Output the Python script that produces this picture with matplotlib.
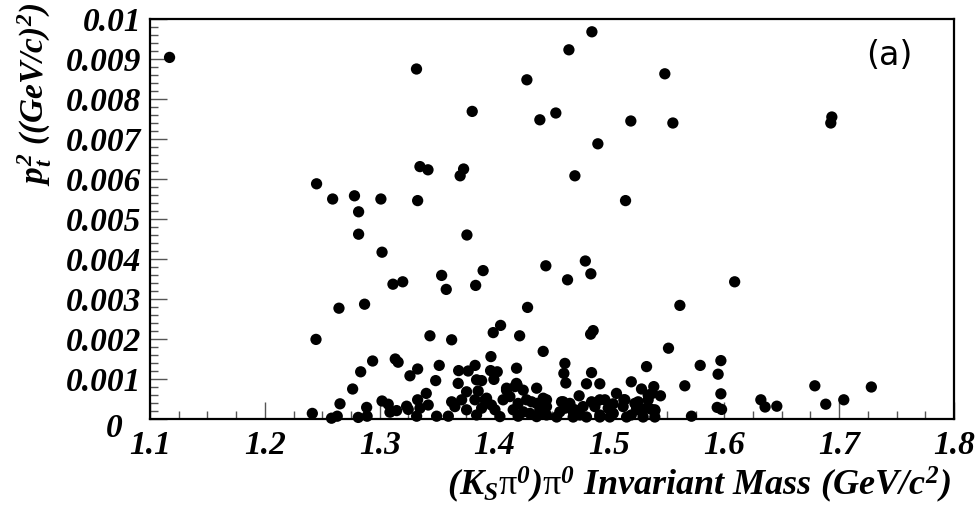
import matplotlib
matplotlib.use("Agg")
import matplotlib.pyplot as plt
import matplotlib.transforms as mtransforms
from matplotlib.ticker import MultipleLocator, FixedLocator

# (K_S pi0) pi0 invariant mass [GeV/c^2] and pt^2 [(GeV/c)^2]
mass_hi = [1.117, 1.332, 1.3805, 1.335, 1.342, 1.370, 1.373, 1.245, 1.259, 1.278,
           1.301, 1.333, 1.2816, 1.2816, 1.3759, 1.302, 1.3115, 1.320, 1.3539, 1.3579,
           1.390, 1.3835, 1.2645, 1.2868, 1.2445, 1.3437, 1.3626, 1.514, 1.4446, 1.479,
           1.4838, 1.4635, 1.5613, 1.4287, 1.4052, 1.3988, 1.4218, 1.4858, 1.4836,
           1.4847, 1.4647, 1.4281, 1.5482, 1.4533, 1.4394, 1.5186, 1.5552, 1.4899,
           1.4699, 1.6936, 1.6927, 1.609]
pt2_hi = [0.00904, 0.00875, 0.00769, 0.00631, 0.00623, 0.00608, 0.00625, 0.00588, 0.00550, 0.00558,
          0.00550, 0.00546, 0.00518, 0.00462, 0.00460, 0.00417, 0.00337, 0.00343, 0.00359, 0.00324,
          0.00371, 0.00334, 0.00277, 0.00287, 0.00199, 0.00208, 0.00198, 0.00546, 0.00383, 0.00395,
          0.00363, 0.00348, 0.00284, 0.00279, 0.00234, 0.00216, 0.00208, 0.00221, 0.00212,
          0.00968, 0.00923, 0.00848, 0.00863, 0.00765, 0.00748, 0.00745, 0.00740, 0.00688,
          0.00608, 0.00755, 0.00740, 0.00343]

mass_lo = [1.579, 1.597, 1.5946, 1.5656, 1.597, 1.5938, 1.5976, 1.5714, 1.6318, 1.6355,
           1.6457, 1.6788, 1.6883, 1.704, 1.728,
           1.2938, 1.2834, 1.2764, 1.3135, 1.316, 1.3263, 1.333, 1.2654, 1.2413, 1.258,
           1.263, 1.2886, 1.289, 1.2813, 1.302, 1.3074, 1.3089, 1.3147, 1.3234, 1.3248,
           1.333, 1.3321,
           1.4423, 1.5514, 1.3518, 1.3487, 1.3687, 1.377, 1.383, 1.3683, 1.3843, 1.3887,
           1.3968, 1.3965, 1.4023, 1.3994, 1.4191, 1.4196, 1.4612, 1.4603, 1.462, 1.4844,
           1.480, 1.4916, 1.5323, 1.519, 1.5279, 1.5386, 1.5444, 1.5061, 1.4736, 1.5125,
           1.4916, 1.5221, 1.5337, 1.5366, 1.5395, 1.525, 1.5003, 1.4873, 1.477, 1.4597,
           1.4655, 1.4568, 1.4684, 1.5033, 1.519, 1.4916, 1.4742,
           1.3422, 1.3405, 1.335, 1.3495, 1.3597, 1.3626, 1.3654, 1.3713, 1.3756, 1.3756,
           1.3857, 1.3829, 1.3916, 1.3887, 1.3972, 1.4003, 1.3843, 1.4074, 1.4104, 1.4046,
           1.4177, 1.4249, 1.4366, 1.4133, 1.4205, 1.4162, 1.4278, 1.4322, 1.4366, 1.4423,
           1.4452, 1.4249, 1.4307, 1.4394, 1.4205, 1.4366, 1.4452,
           1.4104, 1.419, 1.4452, 1.393,
           1.5372, 1.4438, 1.4423, 1.4583, 1.4612, 1.4655, 1.4699, 1.4844, 1.4873, 1.4960,
           1.4989, 1.5032, 1.5134, 1.5119, 1.525, 1.5236, 1.5337, 1.5323, 1.5395, 1.4394,
           1.454, 1.4684, 1.480, 1.4916, 1.5003, 1.5149, 1.5293, 1.5395]
pt2_lo = [0.00134, 0.00146, 0.00112, 0.00083, 0.00063, 0.00029, 0.00024, 0.00007, 0.00048, 0.00030,
          0.00032, 0.00083, 0.00037, 0.00048, 0.00080,
          0.00145, 0.00118, 0.00075, 0.00150, 0.00142, 0.00108, 0.00125, 0.00038, 0.00014, 0.00002,
          0.00007, 0.00029, 0.00007, 0.00004, 0.00045, 0.00037, 0.00017, 0.00021, 0.00032, 0.00024,
          0.00048, 0.00007,
          0.00169, 0.00177, 0.00134, 0.00096, 0.00121, 0.00120, 0.00134, 0.00089, 0.00098, 0.00096,
          0.00156, 0.00121, 0.00118, 0.00099, 0.00127, 0.00085, 0.00139, 0.00114, 0.00090, 0.00116,
          0.00088, 0.00088, 0.00131, 0.00093, 0.00075, 0.00081, 0.00058, 0.00064, 0.00058, 0.00048,
          0.00048, 0.00039, 0.00060, 0.00024, 0.00021, 0.00023, 0.00029, 0.00037, 0.00031, 0.00043,
          0.00039, 0.00018, 0.00018, 0.00014, 0.00010, 0.00010, 0.00010,
          0.00035, 0.00064, 0.00027, 0.00007, 0.00007, 0.00043, 0.00031, 0.00048, 0.00068, 0.00023,
          0.00070, 0.00048, 0.00048, 0.00027, 0.00035, 0.00023, 0.00010, 0.00048, 0.00072, 0.00006,
          0.00081, 0.00072, 0.00077, 0.00056, 0.00039, 0.00023, 0.00048, 0.00043, 0.00039, 0.00052,
          0.00031, 0.00018, 0.00014, 0.00018, 0.00007, 0.00006, 0.00010,
          0.00077, 0.00089, 0.00048, 0.00052,
          0.00064, 0.00048, 0.00035, 0.00043, 0.00027, 0.00035, 0.00023, 0.00043, 0.00031, 0.00048,
          0.00027, 0.00038, 0.00048, 0.00031, 0.00043, 0.00027, 0.00048, 0.00027, 0.00023, 0.00023,
          0.00005, 0.00005, 0.00005, 0.00005, 0.00005, 0.00005, 0.00005, 0.00005]

xticks = [1.1, 1.2, 1.3, 1.4, 1.5, 1.6, 1.7, 1.8]
yticks = [0, 0.001, 0.002, 0.003, 0.004, 0.005, 0.006, 0.007, 0.008, 0.009, 0.01]
ylabels = ['0', '0.001', '0.002', '0.003', '0.004', '0.005', '0.006', '0.007', '0.008', '0.009', '0.01']

plt.rcParams['mathtext.fontset'] = 'custom'
plt.rcParams['mathtext.rm'] = 'Liberation Serif:bold:italic'
plt.rcParams['mathtext.it'] = 'Liberation Serif:bold:italic'
plt.rcParams['mathtext.bf'] = 'Liberation Serif:bold'
plt.rcParams['mathtext.sf'] = 'Liberation Serif'

fig = plt.figure(figsize=(9.78, 5.15), dpi=100)
ax = fig.add_axes([0.1534, 0.1864, 0.8221, 0.7767])

ax.scatter(mass_hi + mass_lo, pt2_hi + pt2_lo, s=66, c='black', edgecolors='none',
           clip_on=False, zorder=3)

ax.set_xlim(1.1, 1.8)
ax.set_ylim(0, 0.01)

ax.xaxis.set_major_locator(FixedLocator(xticks))
ax.xaxis.set_minor_locator(MultipleLocator(0.025))
ax.yaxis.set_major_locator(FixedLocator(yticks))
ax.yaxis.set_minor_locator(MultipleLocator(0.0002))
ax.set_yticklabels(ylabels)

tfont = dict(family='Liberation Serif', weight='bold', style='italic', size=24)
for lab in ax.get_xticklabels() + ax.get_yticklabels():
    lab.set_fontfamily('Liberation Serif')
    lab.set_fontweight('bold')
    lab.set_fontstyle('italic')
    lab.set_fontsize(24)

ax.tick_params(which='both', direction='in', top=False, right=False, color='#555555', width=1)
ax.tick_params(which='major', length=12)
ax.tick_params(which='minor', length=6)
ax.tick_params(axis='x', which='major', pad=8)
ax.tick_params(axis='y', which='major', pad=6)

# the "0" on the y axis sits a bit left and low, as in the original
shift = mtransforms.ScaledTranslation(-14 / 72, -4 / 72, fig.dpi_scale_trans)
zero_lab = ax.get_yticklabels()[0]
zero_lab.set_transform(zero_lab.get_transform() + shift)

for sp in ax.spines.values():
    sp.set_linewidth(1.6)

fig.text(0.972, 0.058, r'$(K_S\mathsf{\pi}^0)\mathsf{\pi}^0$ Invariant Mass (GeV/$c^2$)',
         ha='right', va='center', family='Liberation Serif', weight='bold',
         style='italic', size=26)
fig.text(0.035, 0.995, r'$p_t^2$ ((GeV/$c$)$^2$)', rotation=90, ha='center', va='top', **tfont)

ax.text(0.92, 0.91, '(a)', transform=ax.transAxes, ha='center', va='center',
        fontsize=24, family='DejaVu Sans')

fig.savefig('out.png', dpi=100)
